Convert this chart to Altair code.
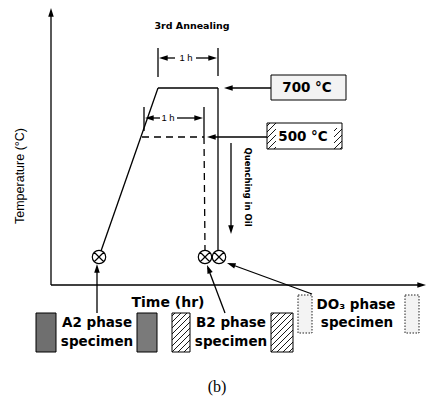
import altair as alt
import pandas as pd

# Schematic canvas coordinates (diagram units)
# solid line segments: x1, y1, x2, y2
seg_x1 = [51, 51, 101, 158, 218, 158, 218, 162, 196, 144, 204, 148, 177, 271, 267, 231, 97, 225, 312]
seg_y1 = [285, 285, 251, 88, 88, 48, 48, 58, 58, 107, 107, 118, 118, 88, 137, 143, 313, 313, 294]
seg_x2 = [51, 421, 158, 218, 218, 158, 218, 175, 214, 144, 204, 160, 200, 228, 211, 231, 97, 208, 230]
seg_y2 = [14, 285, 88, 88, 251, 77, 76, 58, 58, 131, 137, 118, 118, 88, 137, 228, 270, 268, 264]

# dashed segments
dash_x1 = [142, 204]
dash_y1 = [137, 137]
dash_x2 = [204, 205]
dash_y2 = [137, 250]

# arrow heads: tip position and direction (deg clockwise from up)
arr_x = [51, 426, 159, 217, 145, 203, 224, 207, 231, 97, 207, 227]
arr_y = [8, 285, 58, 58, 118, 118, 88, 137, 234, 264, 265, 263]
arr_a = [0, 90, 270, 90, 270, 90, 270, 270, 180, 0, 339, 290]

# specimen markers
mark_x = [99, 205, 219]
mark_y = [257, 257, 257]

# bold labels
lab_text = ["3rd Annealing", "700 °C", "500 °C", "Time (hr)",
            "A2 phase", "specimen", "B2 phase", "specimen", "DO₃ phase", "specimen"]
lab_x = [192, 307, 303, 168, 97, 97, 231, 231, 356, 357]
lab_y = [26, 88, 137, 303, 323, 342, 323, 342, 305, 323]
lab_fs = [9.5, 13.5, 13.5, 14, 13.5, 13.5, 13.5, 13.5, 13.5, 13.5]

small_text = ["1 h", "1 h"]
small_x = [186, 168]
small_y = [58, 118]

# boxes: x1, x2, y1, y2, fill
box_x1 = [271, 267, 36, 137, 172, 271]
box_x2 = [346, 342, 56, 157, 190, 293]
box_y1 = [75, 123, 313, 313, 313, 313]
box_y2 = [100, 149, 352, 352, 352, 352]
box_fill = ["#f3f3f3", "#ffffff", "#6f6f6f", "#7a7a7a", "#ffffff", "#ffffff"]

dot_x1 = [298, 405]
dot_x2 = [312, 419]
dot_y1 = [295, 295]
dot_y2 = [333, 333]

# hatch regions (x0, x1, y0, y1)
hatch_regions = [(172, 190, 313, 352), (271, 293, 313, 352),
                 (267, 276, 123, 149), (334, 342, 128, 149)]


def hatch(x0, x1, y0, y1, step=6):
    out = []
    c = x0 + y0 + step / 2
    while c < x1 + y1:
        pts = []
        for x in (x0, x1):
            y = c - x
            if y0 <= y <= y1:
                pts.append((x, y))
        for y in (y0, y1):
            x = c - y
            if x0 <= x <= x1:
                pts.append((x, y))
        if len(pts) >= 2:
            pts = sorted(set(pts))
            out.append(dict(x=pts[0][0], y=pts[0][1], x2=pts[-1][0], y2=pts[-1][1]))
        c += step
    return out


hatch_rows = []
for r in hatch_regions:
    hatch_rows += hatch(*r)

xs = alt.Scale(domain=[8, 427])
ys = alt.Scale(domain=[8, 400], reverse=True)
X = lambda f="x": alt.X(f"{f}:Q", scale=xs, axis=None)
Y = lambda f="y": alt.Y(f"{f}:Q", scale=ys, axis=None)

segs = pd.DataFrame(dict(x=seg_x1, y=seg_y1, x2=seg_x2, y2=seg_y2))
dashes = pd.DataFrame(dict(x=dash_x1, y=dash_y1, x2=dash_x2, y2=dash_y2))
arrows = pd.DataFrame(dict(x=arr_x, y=arr_y, a=arr_a))
marks = pd.DataFrame(dict(x=mark_x, y=mark_y))
labels = pd.DataFrame(dict(t=lab_text, x=lab_x, y=lab_y, fs=lab_fs))
smalls = pd.DataFrame(dict(t=small_text, x=small_x, y=small_y))
boxes = pd.DataFrame(dict(x=box_x1, x2=box_x2, y=box_y1, y2=box_y2, f=box_fill))
dots = pd.DataFrame(dict(x=dot_x1, x2=dot_x2, y=dot_y1, y2=dot_y2))
hatches = pd.DataFrame(hatch_rows)

FONT = "Liberation Sans"
BOLD = "DejaVu Sans"

box_layer = alt.Chart(boxes).mark_rect(stroke="black", strokeWidth=1).encode(
    x=X(), x2="x2", y=Y(), y2="y2", fill=alt.Fill("f:N", scale=None))
dot_layer = alt.Chart(dots).mark_rect(fill="#f3f3f3", stroke="#222", strokeWidth=1,
                                      strokeDash=[1.5, 1.5]).encode(
    x=X(), x2="x2", y=Y(), y2="y2")
hatch_layer = alt.Chart(hatches).mark_rule(color="black", strokeWidth=0.9).encode(
    x=X(), y=Y(), x2="x2", y2="y2")
seg_layer = alt.Chart(segs).mark_rule(color="black", strokeWidth=1.3).encode(
    x=X(), y=Y(), x2="x2", y2="y2")
dash_layer = alt.Chart(dashes).mark_rule(color="black", strokeWidth=1.3,
                                         strokeDash=[7, 5]).encode(
    x=X(), y=Y(), x2="x2", y2="y2")
arrow_layer = alt.Chart(arrows).mark_point(
    shape="M0,0L-0.32,1L0.32,1Z", filled=True, color="black", size=300, opacity=1
).encode(x=X(), y=Y(), angle=alt.Angle("a:Q", scale=None))
mark_layer = alt.Chart(marks).mark_point(
    shape="M1,0A1,1,0,1,1,-1,0A1,1,0,1,1,1,0M-0.71,-0.71L0.71,0.71M-0.71,0.71L0.71,-0.71",
    filled=False, color="black", strokeWidth=1.2, size=180, opacity=1
).encode(x=X(), y=Y())
label_layer = alt.Chart(labels).mark_text(font=BOLD, fontWeight="bold", color="black",
                                          baseline="middle", align="center").encode(
    x=X(), y=Y(), text="t:N", size=alt.Size("fs:Q", scale=None))
small_layer = alt.Chart(smalls).mark_text(font=FONT, fontSize=9.5, color="black",
                                          baseline="middle").encode(
    x=X(), y=Y(), text="t:N")
quench = alt.Chart(pd.DataFrame(dict(t=["Quenching in Oil"], x=[248], y=[187]))).mark_text(
    font=BOLD, fontWeight="bold", fontSize=8.5, angle=90, baseline="middle").encode(
    x=X(), y=Y(), text="t:N")
ytitle = alt.Chart(pd.DataFrame(dict(t=["Temperature (°C)"], x=[20], y=[176]))).mark_text(
    font=FONT, fontSize=12.5, angle=270, baseline="middle").encode(
    x=X(), y=Y(), text="t:N")
caption = alt.Chart(pd.DataFrame(dict(t=["(b)"], x=[217], y=[387]))).mark_text(
    font="Liberation Serif", fontSize=16, baseline="middle").encode(
    x=X(), y=Y(), text="t:N")

chart = alt.layer(
    box_layer, dot_layer, hatch_layer, seg_layer, dash_layer, arrow_layer, mark_layer,
    label_layer, small_layer, quench, ytitle, caption
).properties(width=419, height=392, autosize="none", padding=0,
             background="white").configure_view(stroke=None)

chart.save("out.html", embed_options={"renderer": "svg", "actions": False})
